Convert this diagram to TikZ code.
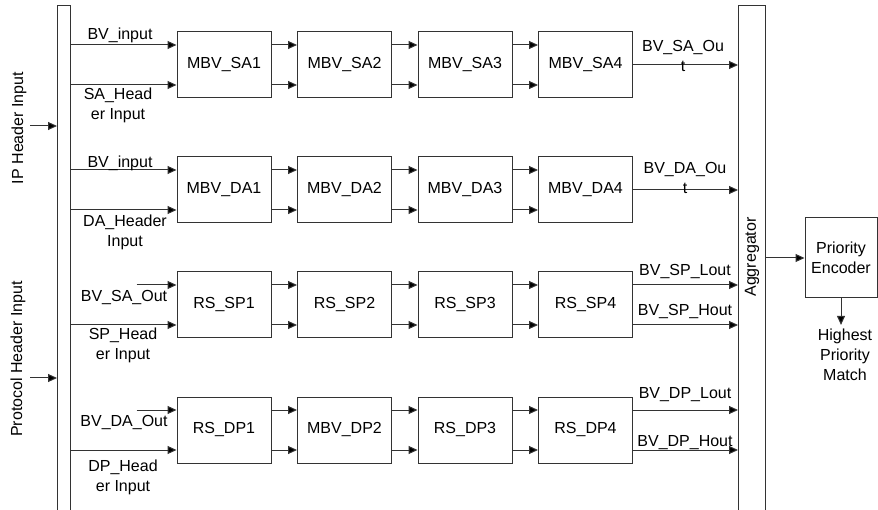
\documentclass[tikz,border=0pt]{standalone}
\usepackage{fontspec}
\setmainfont{Liberation Sans}
\usetikzlibrary{calc, arrows.meta}

\tikzset{
  blk/.style={draw=black!80, line width=1pt, minimum width=94pt, minimum height=66pt, inner sep=0pt},
  bus/.style={draw=black!80, line width=1pt, inner sep=0pt, anchor=north west},
  sig/.style={draw=black!80, line width=1pt, -{Triangle[length=9pt,width=8pt,fill=black]}},
  lbl/.style={align=center, inner sep=0pt},
}

\begin{document}
\begin{tikzpicture}[x=1pt, y=-1pt, font=\fontsize{16}{20}\selectfont]
			\useasboundingbox (0,0) rectangle (878,510);
			% buses
			\node[bus, minimum width=13pt, minimum height=520pt] (hdr) at (57,5) {};
			\node[bus, minimum width=27pt, minimum height=520pt] (agg) at (738,5) {};
			\node[rotate=90] (aggtxt) at (752,257) {Aggregator};
			% header inputs
			\coordinate (ipsrc) at (30,126);
			\coordinate (protosrc) at (30,378);
			\node[rotate=90] (iplbl) at (19,128) {IP Header Input};
			\node[rotate=90] (protolbl) at (18,359) {Protocol Header Input};
			\draw[sig] (ipsrc) -- (hdr.west |- ipsrc);
			\draw[sig] (protosrc) -- (hdr.west |- protosrc);
			% stages
			\foreach \t [count=\i] in {MBV\_SA1,MBV\_SA2,MBV\_SA3,MBV\_SA4}
				\node[blk] (sa\i) at ({224+120.5*(\i-1)},65) {\t};
			\foreach \t [count=\i] in {MBV\_DA1,MBV\_DA2,MBV\_DA3,MBV\_DA4}
				\node[blk] (da\i) at ({224+120.5*(\i-1)},190) {\t};
			\foreach \t [count=\i] in {RS\_SP1,RS\_SP2,RS\_SP3,RS\_SP4}
				\node[blk] (sp\i) at ({224+120.5*(\i-1)},305) {\t};
			\foreach \t [count=\i] in {RS\_DP1,MBV\_DP2,RS\_DP3,RS\_DP4}
				\node[blk] (dp\i) at ({224+120.5*(\i-1)},430) {\t};
			\foreach \r in {sa,da,sp,dp}
				\foreach \i/\j in {1/2,2/3,3/4} {
					\draw[sig] ($(\r\i.east)+(0,-20)$) -- ($(\r\j.west)+(0,-20)$);
					\draw[sig] ($(\r\i.east)+(0,20)$) -- ($(\r\j.west)+(0,20)$);
				}
			% first stage inputs
			\draw[sig] ($(hdr.east |- sa1.west)+(0,-20)$) -- ($(sa1.west)+(0,-20)$);
			\draw[sig] ($(hdr.east |- sa1.west)+(0,20)$) -- ($(sa1.west)+(0,20)$);
			\draw[sig] ($(hdr.east |- da1.west)+(0,-20)$) -- ($(da1.west)+(0,-20)$);
			\draw[sig] ($(hdr.east |- da1.west)+(0,20)$) -- ($(da1.west)+(0,20)$);
			\draw[sig] ($(sp1.west)+(-40,-20)$) -- ($(sp1.west)+(0,-20)$);
			\draw[sig] ($(hdr.east |- sp1.west)+(0,20)$) -- ($(sp1.west)+(0,20)$);
			\draw[sig] ($(dp1.west)+(-40,-20)$) -- ($(dp1.west)+(0,-20)$);
			\draw[sig] ($(hdr.east |- dp1.west)+(0,20)$) -- ($(dp1.west)+(0,20)$);
			\node[lbl] (bvin1) at (120,35) {BV\_input};
			\node[lbl] (sahdr) at (118,105) {SA\_Head\\er Input};
			\node[lbl] (bvin2) at (120,163) {BV\_input};
			\node[lbl] (dahdr) at (125,232) {DA\_Header\\Input};
			\node[lbl] (bvsain) at (124,298) {BV\_SA\_Out};
			\node[lbl] (sphdr) at (123,345) {SP\_Head\\er Input};
			\node[lbl] (bvdain) at (124,423) {BV\_DA\_Out};
			\node[lbl] (dphdr) at (123,477) {DP\_Head\\er Input};
			% outputs to aggregator
			\draw[sig] (sa4.east) -- (agg.west |- sa4.east);
			\draw[sig] (da4.east) -- (agg.west |- da4.east);
			\draw[sig] ($(sp4.east)+(0,-20)$) -- ($(agg.west |- sp4.east)+(0,-20)$);
			\draw[sig] ($(sp4.east)+(0,20)$) -- ($(agg.west |- sp4.east)+(0,20)$);
			\draw[sig] ($(dp4.east)+(0,-20)$) -- ($(agg.west |- dp4.east)+(0,-20)$);
			\draw[sig] ($(dp4.east)+(0,20)$) -- ($(agg.west |- dp4.east)+(0,20)$);
			\node[lbl] (saout) at (683,56) {BV\_SA\_Ou\\t};
			\node[lbl] (daout) at (685,178) {BV\_DA\_Ou\\t};
			\node[lbl] (splout) at (685,272) {BV\_SP\_Lout};
			\node[lbl] (sphout) at (685,312) {BV\_SP\_Hout};
			\node[lbl] (dplout) at (685,395) {BV\_DP\_Lout};
			\node[lbl] (dphout) at (685,443) {BV\_DP\_Hout};
			% priority encoder
			\node[draw=black!80, line width=1pt, align=center, minimum width=72pt, minimum height=80pt] (pe) at (841,258) {Priority\\Encoder};
			\node[lbl] (hpm) at (845,355) {Highest\\Priority\\Match};
			\draw[sig] (agg.east |- pe.west) -- (pe.west);
			\draw[sig] (pe.south) -- ($(pe.south |- hpm.north)+(0,-4)$);
		\end{tikzpicture}
\end{document}
